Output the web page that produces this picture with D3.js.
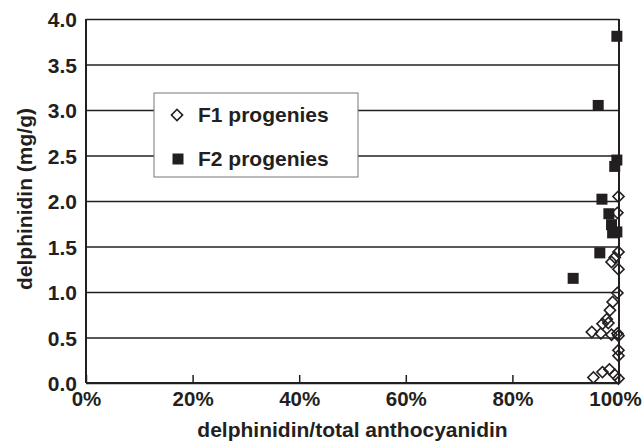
<!DOCTYPE html>
<html>
<head>
<meta charset="utf-8">
<script src="https://cdn.jsdelivr.net/npm/d3@7"></script>
<style>
  body { margin: 0; background: #fff; }
  svg text { font-family: "Liberation Sans", Arial, sans-serif; font-weight: bold; fill: #231f20; }
</style>
</head>
<body>
<svg id="chart" width="643" height="444"></svg>
<script>
// F1 progenies (open diamonds): ratio % and delphinidin mg/g
var f1Ratio = [99.9, 99.7, 99.9, 99.2, 98.6, 99.9, 99.7, 98.8, 98.3, 97.7, 98.0, 96.9, 94.9, 96.6, 98.6, 99.7, 99.9, 99.9, 99.9, 95.2, 96.9, 98.2, 99.2, 99.9];
var f1Delph = [2.05, 1.87, 1.44, 1.38, 1.33, 1.25, 0.99, 0.89, 0.80, 0.70, 0.66, 0.65, 0.56, 0.545, 0.53, 0.545, 0.52, 0.36, 0.30, 0.06, 0.12, 0.15, 0.09, 0.05];

// F2 progenies (filled squares)
var f2Ratio = [99.6, 96.1, 99.6, 99.2, 96.8, 98.1, 98.6, 98.8, 99.6, 96.4, 91.4];
var f2Delph = [3.81, 3.05, 2.45, 2.38, 2.02, 1.86, 1.74, 1.65, 1.66, 1.43, 1.15];

var xTicks = [0, 20, 40, 60, 80, 100];
var yTicks = [0, 0.5, 1, 1.5, 2, 2.5, 3, 3.5, 4];
var legendLabels = ["F1 progenies", "F2 progenies"];

var ink = "#231f20";
var margin = {top: 19, right: 24, bottom: 61, left: 86};
var width = 643 - margin.left - margin.right;
var height = 444 - margin.top - margin.bottom;

var svg = d3.select("#chart");
var g = svg.append("g").attr("transform", "translate(" + margin.left + "," + margin.top + ")");

var x = d3.scaleLinear().domain([0, 100]).range([0, width]);
var y = d3.scaleLinear().domain([0, 4]).range([height, 0]);

// gridlines + y labels
var yAxis = g.append("g")
  .call(d3.axisLeft(y).tickValues(yTicks).tickSize(-width).tickPadding(9)
    .tickFormat(d3.format(".1f")));
yAxis.select(".domain").remove();
yAxis.selectAll("line").attr("stroke", ink).attr("stroke-width", 1.5);
yAxis.selectAll("text").style("font-size", "21px").attr("dy", "0.36em");

// x axis (ticks point inward)
var xAxis = g.append("g")
  .attr("transform", "translate(0," + height + ")")
  .call(d3.axisBottom(x).tickValues(xTicks).tickSize(-8).tickPadding(8)
    .tickFormat(function(d) { return d + "%"; }));
xAxis.select(".domain").remove();
xAxis.selectAll("line").attr("stroke", ink).attr("stroke-width", 1.5);
xAxis.selectAll("text").style("font-size", "20.5px")
  .attr("dx", function(d) { return d == 100 ? -4 : 0; }); // el 100% se sale del borde

// frame
g.append("line").attr("x1", 0).attr("x2", 0).attr("y1", 0).attr("y2", height)
  .attr("stroke", ink).attr("stroke-width", 2);
g.append("line").attr("x1", width).attr("x2", width).attr("y1", 0).attr("y2", height)
  .attr("stroke", ink).attr("stroke-width", 2);
g.append("line").attr("x1", 0).attr("x2", width).attr("y1", height).attr("y2", height)
  .attr("stroke", ink).attr("stroke-width", 2);

// legend
var lx = 154 - margin.left, ly = 93 - margin.top;
var legend = g.append("g").attr("transform", "translate(" + lx + "," + ly + ")");
legend.append("rect").attr("width", 204).attr("height", 84)
  .attr("fill", "#fff").attr("stroke", "#777").attr("stroke-width", 1);

var diamond = d3.symbol().type(d3.symbolSquare).size(62);
var square = d3.symbol().type(d3.symbolSquare).size(121);

legend.append("path").attr("d", diamond())
  .attr("transform", "translate(23,22) rotate(45)")
  .attr("fill", "none").attr("stroke", ink).attr("stroke-width", 1.6);
legend.append("path").attr("d", square())
  .attr("transform", "translate(24,66)").attr("fill", ink);
legend.selectAll("text.lab")
  .data(legendLabels)
  .enter()
  .append("text")
  .attr("class", "lab")
  .attr("x", 44)
  .attr("y", function(d, i) { return 29 + i * 44; })
  .style("font-size", "21px")
  .text(function(d) { return d; });

// points
var f2 = f2Ratio.map(function(v, i) { return {r: v, d: f2Delph[i]}; });
var f1 = f1Ratio.map(function(v, i) { return {r: v, d: f1Delph[i]}; });

g.selectAll(".f2")
  .data(f2)
  .enter()
  .append("path")
  .attr("class", "f2")
  .attr("d", square())
  .attr("transform", function(d) { return "translate(" + x(d.r) + "," + y(d.d) + ")"; })
  .attr("fill", ink);

g.selectAll(".f1")
  .data(f1)
  .enter()
  .append("path")
  .attr("class", "f1")
  .attr("d", diamond())
  .attr("transform", function(d) { return "translate(" + x(d.r) + "," + y(d.d) + ") rotate(45)"; })
  .attr("fill", "none")
  .attr("stroke", ink)
  .attr("stroke-width", 1.6);

// axis titles
svg.append("text")
  .attr("x", margin.left + width / 2)
  .attr("y", 437)
  .attr("text-anchor", "middle")
  .style("font-size", "21px")
  .text("delphinidin/total anthocyanidin");

svg.append("text")
  .attr("transform", "translate(32,199) rotate(-90)")
  .attr("text-anchor", "middle")
  .style("font-size", "21px")
  .text("delphinidin (mg/g)");
</script>
</body>
</html>
